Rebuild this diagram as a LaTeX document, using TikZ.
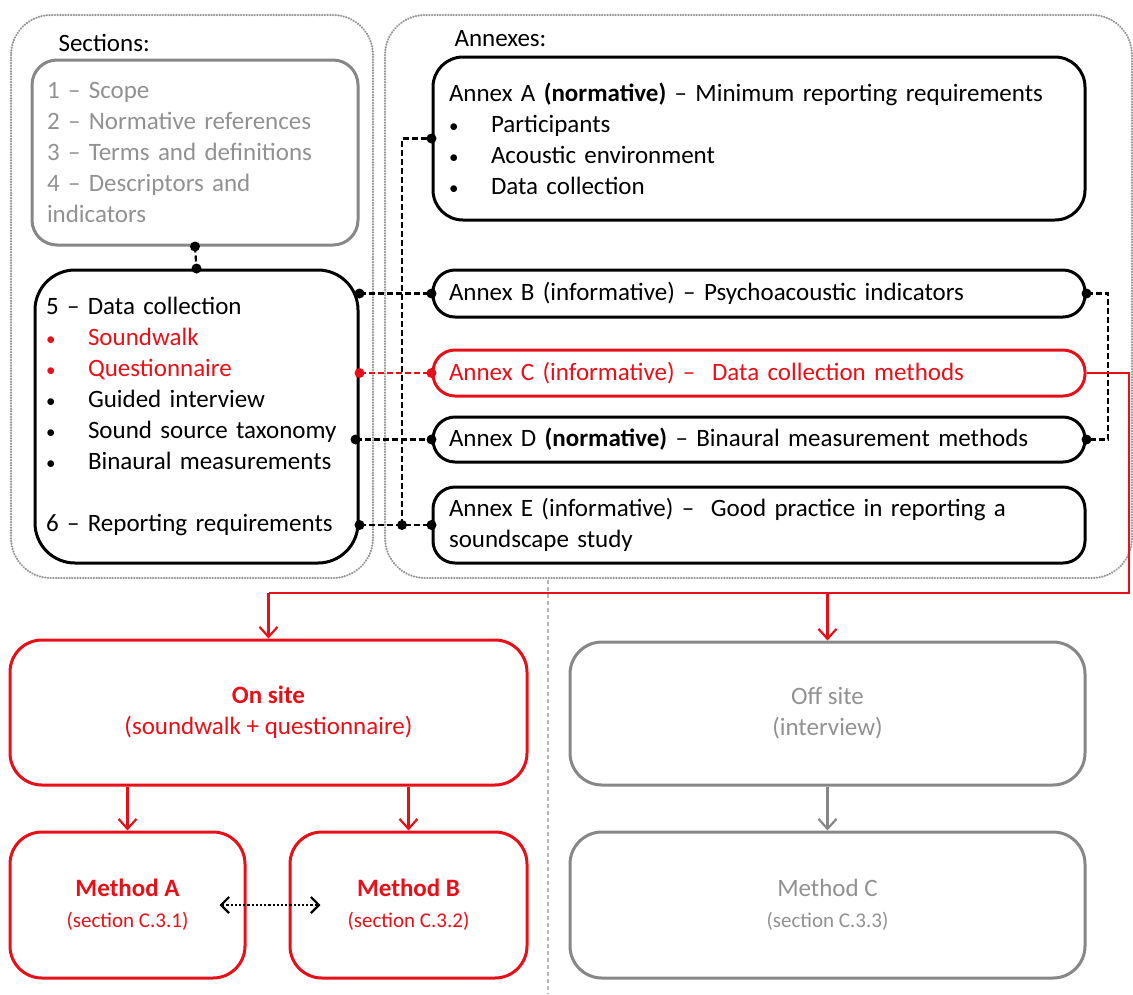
\documentclass[tikz,border=0pt]{standalone}
\usepackage{fontspec}
\setmainfont{Carlito}
\usetikzlibrary{arrows.meta}
\definecolor{myred}{RGB}{232,16,24}
\definecolor{boxgray}{RGB}{135,135,135}
\definecolor{txtgray}{RGB}{145,145,145}
\definecolor{dotgray}{RGB}{150,150,150}
\newcommand{\bul}{\makebox[42pt][l]{\fontsize{19}{31}\selectfont•}}
\begin{document}
\begin{tikzpicture}[x=1pt,y=-1pt,
  txt/.style={font=\fontsize{25}{31}\selectfont},
  box/.style={draw, line width=3pt, inner sep=0pt, align=left, txt},
  cbox/.style={draw, line width=3pt, inner sep=0pt, align=center, txt},
  conn/.style={line width=2.2pt, dash pattern=on 6pt off 3pt},
  outer/.style={draw=dotgray, line width=2.4pt, dash pattern=on 0.1pt off 2.6pt, line cap=round, rounded corners=40pt},
  arr/.style={line width=2.2pt, -{Straight Barb[length=10pt,width=18pt,line width=2.2pt]}},
]
\useasboundingbox (0,0) rectangle (1133,994);

% outer dotted frames
\draw[outer] (11,15) rectangle (373,578);
\draw[outer] (385,15) rectangle (1132,578);
\draw[dotgray!70, line width=1.2pt, dash pattern=on 4pt off 3pt] (548,580) -- (548,994);

\node[txt, anchor=west] (sectitle) at (55,43) {Sections:};
\node[txt, anchor=west] (anntitle) at (451,39) {Annexes:};

% sections
\node[box, draw=boxgray, text=txtgray, rounded corners=25pt, minimum width=326pt, minimum height=185pt, text width=296pt] (sec) at (195,152.5)
  {1 – Scope\\2 – Normative references\\3 – Terms and definitions\\4 – Descriptors and\\indicators};
\node[box, rounded corners=40pt, minimum width=323pt, minimum height=293pt, text width=301pt] (s5) at (196.5,416.5)
  {5 – Data collection\\
   {\color{myred}\bul Soundwalk}\\
   {\color{myred}\bul Questionnaire}\\
   \bul Guided interview\\
   \bul Sound source taxonomy\\
   \bul Binaural measurements\\
   \mbox{}\\
   6 – Reporting requirements};

% annexes
\node[box, rounded corners=30pt, minimum width=652pt, minimum height=163pt, text width=620pt] (anA) at (759,138.5)
  {Annex A \textbf{(normative)} – Minimum reporting requirements\\
   \bul Participants\\
   \bul Acoustic environment\\
   \bul Data collection};
\node[box, rounded corners=22pt, minimum width=652pt, minimum height=47pt, text width=620pt] (anB) at (759,293.5)
  {Annex B (informative) – Psychoacoustic indicators};
\node[box, draw=myred, text=myred, rounded corners=22pt, minimum width=652pt, minimum height=46pt, text width=620pt] (anC) at (759,373)
  {Annex C (informative) –\ \ Data collection methods};
\node[box, rounded corners=22pt, minimum width=652pt, minimum height=45pt, text width=620pt] (anD) at (759,439.5)
  {Annex D \textbf{(normative)} – Binaural measurement methods};
\node[box, rounded corners=22pt, minimum width=652pt, minimum height=76pt, text width=620pt] (anE) at (759,525)
  {Annex E (informative) –\ \ Good practice in reporting a\\soundscape study};

% bottom
\node[cbox, draw=myred, text=myred, rounded corners=32pt, minimum width=517pt, minimum height=145pt] (on) at (268.5,712.5)
  {\textbf{On site}\\(soundwalk + questionnaire)};
\node[cbox, draw=boxgray, text=txtgray, rounded corners=32pt, minimum width=515pt, minimum height=143pt] (off) at (827.5,713.5)
  {Off site\\(interview)};
\node[cbox, draw=myred, text=myred, rounded corners=32pt, minimum width=235pt, minimum height=146pt] (mA) at (127.5,905)
  {\textbf{Method A}\\{\fontsize{21}{27}\selectfont(section C.3.1)}};
\node[cbox, draw=myred, text=myred, rounded corners=32pt, minimum width=237pt, minimum height=146pt] (mB) at (408.5,905)
  {\textbf{Method B}\\{\fontsize{21}{27}\selectfont(section C.3.2)}};
\node[cbox, draw=boxgray, text=txtgray, rounded corners=32pt, minimum width=515pt, minimum height=146pt] (mC) at (827.5,905)
  {Method C\\{\fontsize{21}{27}\selectfont(section C.3.3)}};

% left connectors
\draw[conn] (sec.south) -- (s5.north);
\fill (sec.south) circle (5pt) (s5.north) circle (5pt);

\draw[conn] (s5.east |- anB.west) -- (anB.west);
\fill (s5.east |- anB.west) circle (5pt) (anB.west) circle (5pt);
\draw[conn, myred] (s5.east |- anC.west) -- (anC.west);
\fill[myred] (s5.east |- anC.west) circle (5pt) (anC.west) circle (5pt);
\draw[conn] ([xshift=-4pt]s5.east |- anD.west) -- (anD.west);
\fill ([xshift=-4pt]s5.east |- anD.west) circle (5pt) (anD.west) circle (5pt);
\coordinate (j) at (402,525);
\draw[conn] (s5.east |- anE.west) -- (anE.west);
\draw[conn] (j) -- (j |- anA.west) -- (anA.west);
\fill (s5.east |- anE.west) circle (5pt) (j) circle (5pt) (anE.west) circle (5pt) (anA.west) circle (5pt);

% right connectors
\coordinate (rb) at (1108,293.5);
\draw[conn] (anB.east) -- (rb) |- (anD.east);
\fill (anB.east) circle (5pt) (anD.east) circle (5pt);

\coordinate (rc) at (1129,593);
\draw[myred, line width=2.2pt] (anC.east) -| (rc) -- (on.north |- rc);
\draw[arr, myred] (on.north |- rc) -- (on.north);
\draw[arr, myred] (off.north |- rc) -- (off.north);

% bottom arrows
\draw[arr, myred] (mA.north |- on.south) -- (mA.north);
\draw[arr, myred] (mB.north |- on.south) -- (mB.north);
\draw[arr, boxgray] (off.south) -- (mC.north);
\draw[line width=2.2pt, dotted, {Straight Barb[length=8pt,width=16pt,line width=2.2pt]}-{Straight Barb[length=8pt,width=16pt,line width=2.2pt]}] ([xshift=-27pt]mA.east) -- ([xshift=32pt]mB.west);
\end{tikzpicture}
\end{document}
